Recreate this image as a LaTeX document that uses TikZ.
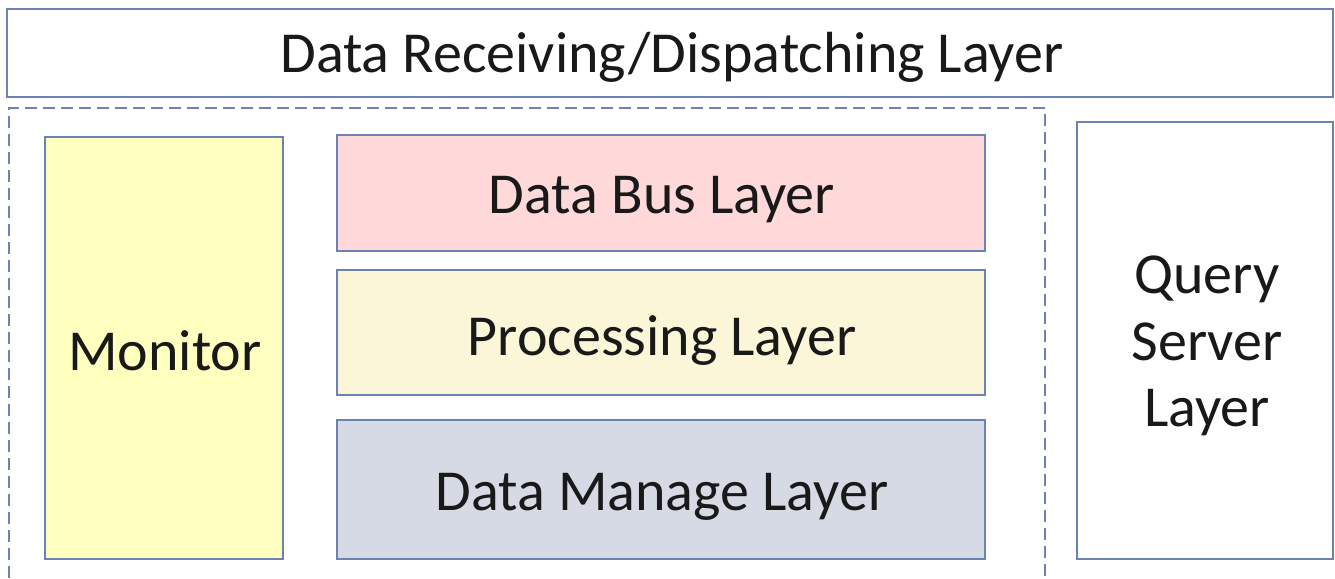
\documentclass[tikz,border=0pt]{standalone}
\usepackage{fontspec}
\setmainfont{Carlito}
\begin{document}
\begin{tikzpicture}[x=1pt,y=-1pt,
  box/.style={draw=bordercol,line width=2pt,inner sep=0pt},
  lbl/.style={font=\fontsize{58}{68}\selectfont,text=black!90,anchor=base,inner sep=0pt}]
\definecolor{bordercol}{HTML}{6B82B2}
\definecolor{buscol}{HTML}{FFD9D9}
\definecolor{proccol}{HTML}{FBF6D8}
\definecolor{mancol}{HTML}{D6DAE5}
\definecolor{moncol}{HTML}{FFFFC0}
\useasboundingbox (0,0) rectangle (1335,578);
\draw[box,fill=white] (7,9) rectangle (1333,97);
\node[lbl] (top) at (672,73) {Data Receiving/Dispatching Layer};
\coordinate (dbl) at (9,578);
\coordinate (dbr) at (1045,578);
\draw[draw=bordercol,line width=2pt,dash pattern=on 12pt off 6pt] (dbl) -- (9,108) -- (1045,108) -- (dbr);
\draw[box,fill=moncol] (45,137) rectangle (283,559);
\node[lbl] (mon) at (165,370) {Monitor};
\draw[box,fill=buscol] (337,135) rectangle (985,251);
\node[lbl] (bus) at (662,213) {Data Bus Layer};
\draw[box,fill=proccol] (337,270) rectangle (985,395);
\node[lbl] (proc) at (662,355) {Processing Layer};
\draw[box,fill=mancol] (337,420) rectangle (985,559);
\node[lbl] (man) at (662,510) {Data Manage Layer};
\draw[box,fill=white] (1077,122) rectangle (1333,559);
\node[lbl] (q1) at (1207,293) {Query};
\node[lbl] (q2) at (1207,360) {Server};
\node[lbl] (q3) at (1207,426) {Layer};
\end{tikzpicture}
\end{document}
